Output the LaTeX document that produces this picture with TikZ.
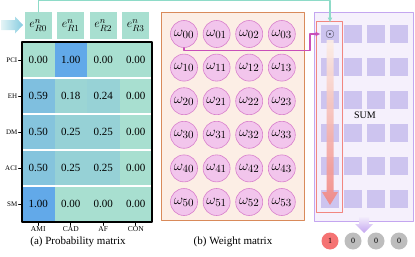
\documentclass[tikz,border=0pt]{standalone}
\usepackage{fontspec}
\setmainfont{Liberation Serif}
\usetikzlibrary{arrows.meta,positioning}
\DeclareMathSizes{14}{14}{11}{8}
\definecolor{MatTeal}{HTML}{A8DFD0}
\definecolor{MatBlue}{HTML}{62A9E9}
\definecolor{LinkTeal}{HTML}{8EDBC8}
\definecolor{ArrLight}{HTML}{E4F4F6}
\definecolor{ArrDark}{HTML}{86CCE0}
\definecolor{WPeach}{HTML}{FCEEE5}
\definecolor{WOrange}{HTML}{D98A5A}
\definecolor{WPink}{HTML}{F2C5EC}
\definecolor{WPinkEdge}{HTML}{D880CC}
\definecolor{WMagenta}{HTML}{C94FB8}
\definecolor{SLav}{HTML}{F5F0FC}
\definecolor{SLavEdge}{HTML}{C4A6F0}
\definecolor{SCell}{HTML}{CDC4EF}
\definecolor{SRed}{HTML}{F28680}
\definecolor{ORed}{HTML}{F57373}
\definecolor{OGrey}{HTML}{BDBDBD}

\tikzset{
  probcell/.style={minimum width=32.5pt,minimum height=36pt,inner sep=0pt,outer sep=0pt,font=\fontsize{11}{12}\selectfont},
  ebox/.style={fill=MatTeal,minimum size=27pt,inner sep=0pt,font=\fontsize{13}{13}\selectfont},
  ticklab/.style={inner sep=1pt,font=\fontsize{7}{8}\selectfont},
  wcirc/.style={circle,draw=WPinkEdge,fill=WPink,line width=0.6pt,minimum size=27pt,inner sep=0pt,font=\fontsize{14}{14}\selectfont},
  sumcell/.style={fill=SCell,minimum size=18.5pt,inner sep=0pt},
  outcirc/.style={circle,minimum size=17pt,inner sep=0pt,font=\fontsize{8}{9}\selectfont},
  caption/.style={font=\fontsize{11}{12}\selectfont},
}

\begin{document}
\begin{tikzpicture}[x=1pt,y=-1pt,line cap=round,line join=round]
  \useasboundingbox (0,0) rectangle (415,257);
  \foreach \lab/\va/\vb/\vc/\vd [count=\i from 0] in {PCI/0.00/1.00/0.00/0.00,EH/0.59/0.18/0.24/0.00,DM/0.50/0.25/0.25/0.00,ACI/0.50/0.25/0.25/0.00,SM/1.00/0.00/0.00/0.00}{
    \foreach \v [count=\j from 0] in {\va,\vb,\vc,\vd}{
      \pgfmathtruncatemacro\pct{round(\v*100)}
      \node[probcell,fill=MatBlue!\pct!MatTeal] (p\i\j) at (38.25+32.5*\j,60+36*\i) {\v};
    }
    \node[ticklab,left=3.5pt of p\i0] (r\i) {\lab};
    \draw[line width=0.6pt] (p\i0.west) -- ++(-3.5,0);
  }
  \foreach \k in {1,...,4}
    \draw[white,line width=2.5pt,line cap=butt] (p\k0.north west) -- (p\k3.north east);
  \draw[line width=1.2pt] (p00.north west) rectangle (p43.south east);
  \foreach \lab [count=\j from 0] in {AMI,CAD,AF,CON}{
    \node[ticklab,font=\fontsize{7.5}{8}\selectfont,below=3.5pt of p4\j] (k\j) {\lab};
    \draw[line width=0.6pt] (p4\j.south) -- ++(0,3.5);
  }
  \foreach \j in {0,...,3}
    \node[ebox] (e\j) at (38.25+32.5*\j,25.5) {$e^{n}_{R\j}$};
  \shade[left color=ArrLight,right color=ArrDark] (1,20) -- (15,20) -- (15,16.5) -- (23,25) -- (15,33.5) -- (15,30) -- (1,30) -- cycle;
  \node[caption] (capa) at (78,242) {(a) Probability matrix};

  \draw[WOrange,fill=WPeach,line width=1pt] (161,12) rectangle (304,220);
  \foreach \i in {0,...,5}
    \foreach \j in {0,...,3}
      \node[wcirc] (w\i\j) at (184+32.6*\j,34+33.6*\i) {$\omega_{\i\j}$};
  \node[caption] (capb) at (233,242) {(b) Weight matrix};

  \draw[SLavEdge,fill=SLav,line width=1pt] (314,12) rectangle (413,221);
  \foreach \i in {0,...,5}
    \foreach \j in {0,...,3}
      \node[sumcell] (c\i\j) at (330+23*\j,34+33*\i) {};
  \node[font=\fontsize{12}{12}\selectfont] (dot) at (c00) {$\odot$};
  \node[font=\fontsize{10}{12}\selectfont] (sum) at (365,115) {SUM};
  \shade[top color=WPeach,bottom color=SRed,opacity=0.9] (326.5,40) -- (333.5,40) -- (333.5,192) -- (338,192) -- (330,205) -- (322,192) -- (326.5,192) -- cycle;
  \draw[SRed,line width=1.2pt] ([shift={(-4,-3)}]c00.north west) rectangle ([shift={(3,4)}]c50.south east);
  \shade[top color=SLav,bottom color=SLavEdge] (359,216) -- (369,216) -- (369,224) -- (373,224) -- (364,233) -- (355,224) -- (359,224) -- cycle;
  \foreach \v/\col [count=\j from 0] in {1/ORed,0/OGrey,0/OGrey,0/OGrey}
    \node[outcirc,fill=\col] (o\j) at (330+23*\j,241) {\v};

  \draw[LinkTeal,line width=1.1pt,-{Latex[length=5pt,width=5pt]}] (e0.north) -- ++(0,-11) -| ([yshift=2pt]c00.north);
  \draw[WMagenta,line width=1.1pt,-{Latex[length=5pt,width=5pt]}] (w00.south) -- ++(0,2.5) -- ++(126,0) |- (c00.west);
\end{tikzpicture}
\end{document}
